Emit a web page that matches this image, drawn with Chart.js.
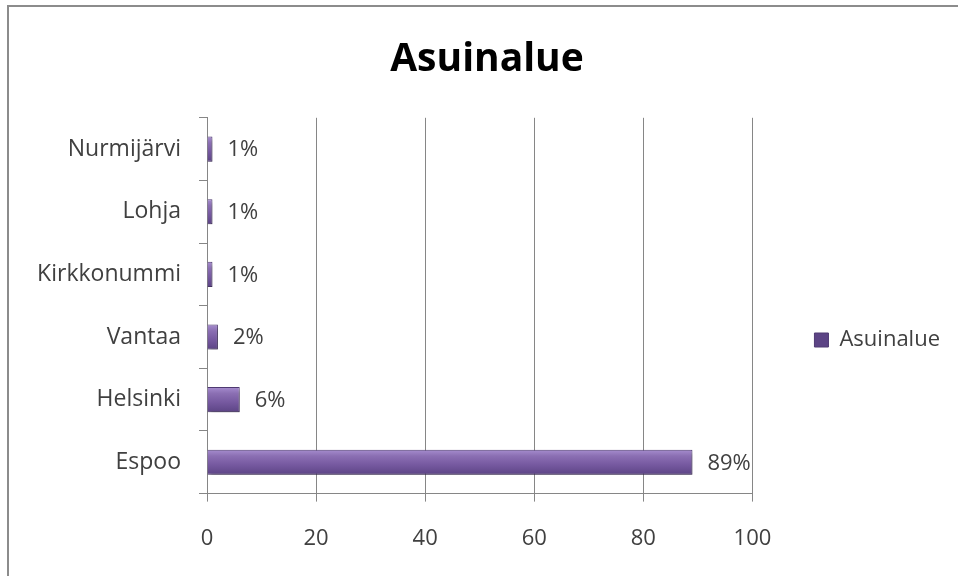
<!DOCTYPE html>
<html>
<head>
<meta charset="utf-8">
<script src="https://cdn.jsdelivr.net/npm/chart.js@4.4.0/dist/chart.umd.min.js"></script>
<style>
  html,body{margin:0;padding:0;background:#fff;overflow:hidden;}
  #frame{position:absolute;left:7px;top:5px;width:1100px;height:800px;border:2px solid #8c8c8c;}
  #wrap{position:absolute;left:0;top:0;width:958px;height:576px;}
</style>
</head>
<body>
<div id="frame"></div>
<div id="wrap"><canvas id="chart" width="958" height="576"></canvas></div>
<script>
// data
const areas=["Nurmijärvi","Lohja","Kirkkonummi","Vantaa","Helsinki","Espoo"];
const shares=[1,1,1,2,6,89];
const xTicks=[0,20,40,60,80,100];

const FONT="'Open Sans', sans-serif";

function barFill(c){
  const chart=c.chart, y=chart.scales.y;
  if(!chart.chartArea || !y) return "#7f63a1";
  const py=y.getPixelForValue(c.dataIndex);
  const half=Math.abs(y.getPixelForValue(1)-y.getPixelForValue(0))*0.2;
  const g=chart.ctx.createLinearGradient(0,py-half,0,py+half);
  g.addColorStop(0,"#a68dcf");
  g.addColorStop(0.25,"#8b6fb3");
  g.addColorStop(0.6,"#7659a0");
  g.addColorStop(1,"#5c4485");
  return g;
}

// shadow under the bars
const barShadow={
  id:"barShadow",
  beforeDatasetsDraw(chart){
    const ctx=chart.ctx; ctx.save();
    ctx.shadowColor="rgba(0,0,0,0.35)"; ctx.shadowBlur=4; ctx.shadowOffsetX=2; ctx.shadowOffsetY=3;
  },
  afterDatasetsDraw(chart){ chart.ctx.restore(); }
};

// percent labels right of each bar
const pctLabels={
  id:"pctLabels",
  afterDatasetsDraw(chart){
    const ctx=chart.ctx, meta=chart.getDatasetMeta(0);
    ctx.save();
    ctx.font="22px "+FONT; ctx.fillStyle="#404040";
    ctx.textAlign="left"; ctx.textBaseline="middle";
    meta.data.forEach((bar,i)=>{ ctx.fillText(shares[i]+"%", bar.x+15, bar.y+1); });
    ctx.restore();
  }
};

new Chart(document.getElementById("chart"),{
  type:"bar",
  data:{ labels:areas, datasets:[{ label:"Asuinalue", data:shares, backgroundColor:barFill,
    borderColor:"#4f3a73", borderWidth:1, categoryPercentage:0.5, barPercentage:0.8 }] },
  options:{
    indexAxis:"y", responsive:false, animation:false,
    layout:{ padding:{ left:24, right:8, top:0, bottom:0 } },
    plugins:{
      title:{ display:true, text:"Asuinalue", color:"#000", font:{ family:FONT, size:39, weight:"bold" },
        padding:{ top:36, bottom:35 } },
      legend:{ position:"right", align:"center",
        title:{ display:true, text:"", font:{ size:10 }, padding:{ top:92, bottom:0 } },
        labels:{ color:"#404040", font:{ family:FONT, size:22 }, boxWidth:14, boxHeight:14, padding:62 } },
      tooltip:{ enabled:false }
    },
    scales:{
      x:{ min:0, max:100, afterBuildTicks(s){ s.ticks=xTicks.map(v=>({value:v})); },
        grid:{ color:"#868686", lineWidth:1, tickLength:8 },
        border:{ color:"#868686" },
        ticks:{ color:"#404040", font:{ family:FONT, size:22 }, padding:24 } },
      y:{ afterFit(s){ s.width=183; },
        grid:{ drawOnChartArea:false, offset:true, color:"#868686", tickLength:8 },
        border:{ color:"#868686" },
        ticks:{ color:"#404040", font:{ family:FONT, size:23 }, padding:18 } }
    }
  },
  plugins:[barShadow,pctLabels]
});
</script>
</body>
</html>
